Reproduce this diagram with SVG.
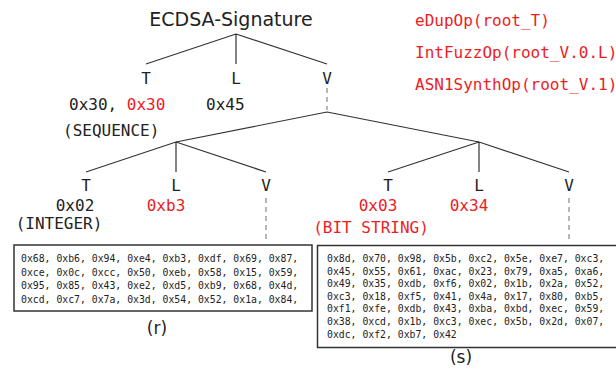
<svg xmlns="http://www.w3.org/2000/svg" width="616" height="374" viewBox="0 0 616 374">
<style>
.sans{font-family:"DejaVu Sans",sans-serif;fill:#222}
.mono{font-family:"DejaVu Sans Mono",monospace;font-size:16px;fill:#222}
.red{fill:#ec1c24}
.small{font-family:"DejaVu Sans Mono",monospace;font-size:9.8px;fill:#222}
.edge{stroke:#333;stroke-width:1.2;fill:none}
.dash{stroke:#888;stroke-width:1.2;stroke-dasharray:5,4;fill:none}
.box{fill:#fff;stroke:#333;stroke-width:1.5}
</style>
<rect width="616" height="374" fill="#fff"/>
<g id="connectors">
<path class="edge" d="M236,34 L146,64 M236,34 L236,64 M236,34 L327,64"/>
<path class="dash" d="M327,88 L327,110"/>
<path class="edge" d="M327,112 L176,142 M327,112 L479,142"/>
<path class="edge" d="M176,142 L86,172 M176,142 L176,172 M176,142 L266,172"/>
<path class="edge" d="M479,142 L388,172 M479,142 L479,172 M479,142 L569,172"/>
<path class="dash" d="M266,198 L266,242 M569,198 L569,243"/>
</g>
<g id="root"><text class="sans" x="231" y="26" font-size="19" text-anchor="middle">ECDSA-Signature</text></g>
<g id="ops">
<text class="mono red" x="415" y="26" font-size="14.4">eDupOp(root_T)</text>
<text class="mono red" x="415" y="58" font-size="14.4">IntFuzzOp(root_V.0.L)</text>
<text class="mono red" x="415" y="90" font-size="14.4">ASN1SynthOp(root_V.1)</text>
</g>
<g id="root-T"><text class="mono" x="146" y="84" text-anchor="middle">T</text>
<text class="mono" x="69" y="110">0x30, <tspan class="red">0x30</tspan></text>
<text class="mono" x="63" y="136">(SEQUENCE)</text></g>
<g id="root-L"><text class="mono" x="236" y="84" text-anchor="middle">L</text>
<text class="mono" x="206" y="110">0x45</text></g>
<g id="root-V"><text class="mono" x="327" y="84" text-anchor="middle">V</text></g>
<g id="r-T"><text class="mono" x="86" y="191" text-anchor="middle">T</text>
<text class="mono" x="75" y="210.5" text-anchor="middle">0x02</text>
<text class="mono" x="59" y="229" text-anchor="middle">(INTEGER)</text></g>
<g id="r-L"><text class="mono" x="176" y="191" text-anchor="middle">L</text>
<text class="mono red" x="166" y="211" text-anchor="middle">0xb3</text></g>
<g id="r-V"><text class="mono" x="266" y="191" text-anchor="middle">V</text></g>
<g id="s-T"><text class="mono" x="388" y="191" text-anchor="middle">T</text>
<text class="mono red" x="378" y="211" text-anchor="middle">0x03</text>
<text class="mono red" x="371" y="233" text-anchor="middle">(BIT STRING)</text></g>
<g id="s-L"><text class="mono" x="479" y="191" text-anchor="middle">L</text>
<text class="mono red" x="469" y="211" text-anchor="middle">0x34</text></g>
<g id="s-V"><text class="mono" x="569" y="191" text-anchor="middle">V</text></g>
<g id="r-box">
<rect class="box" x="14" y="245" width="298" height="66"/>
<text class="small" x="21" y="262">0x68, 0xb6, 0x94, 0xe4, 0xb3, 0xdf, 0x69, 0x87,</text>
<text class="small" x="21" y="275.5">0xce, 0x0c, 0xcc, 0x50, 0xeb, 0x58, 0x15, 0x59,</text>
<text class="small" x="21" y="289">0x95, 0x85, 0x43, 0xe2, 0xd5, 0xb9, 0x68, 0x4d,</text>
<text class="small" x="21" y="302.5">0xcd, 0xc7, 0x7a, 0x3d, 0x54, 0x52, 0x1a, 0x84,</text>
<text class="sans" x="157" y="334" font-size="17" text-anchor="middle">(r)</text>
</g>
<g id="s-box">
<rect class="box" x="317.5" y="245.5" width="305" height="102"/>
<text class="small red" x="327" y="262">0x8d, 0x70, 0x98, 0x5b, 0xc2, 0x5e, 0xe7, 0xc3,</text>
<text class="small red" x="327" y="274.6">0x45, 0x55, 0x61, 0xac, 0x23, 0x79, 0xa5, 0xa6,</text>
<text class="small red" x="327" y="287.2">0x49, 0x35, 0xdb, 0xf6, 0x02, 0x1b, 0x2a, 0x52,</text>
<text class="small red" x="327" y="299.8">0xc3, 0x18, 0xf5, 0x41, 0x4a, 0x17, 0x80, 0xb5,</text>
<text class="small red" x="327" y="312.4">0xf1, 0xfe, 0xdb, 0x43, 0xba, 0xbd, 0xec, 0x59,</text>
<text class="small red" x="327" y="325">0x38, 0xcd, 0x1b, 0xc3, 0xec, 0x5b, 0x2d, 0x07,</text>
<text class="small red" x="327" y="337.6">0xdc, 0xf2, 0xb7, 0x42</text>
<text class="sans" x="461" y="363" font-size="17" text-anchor="middle">(s)</text>
</g>
</svg>
